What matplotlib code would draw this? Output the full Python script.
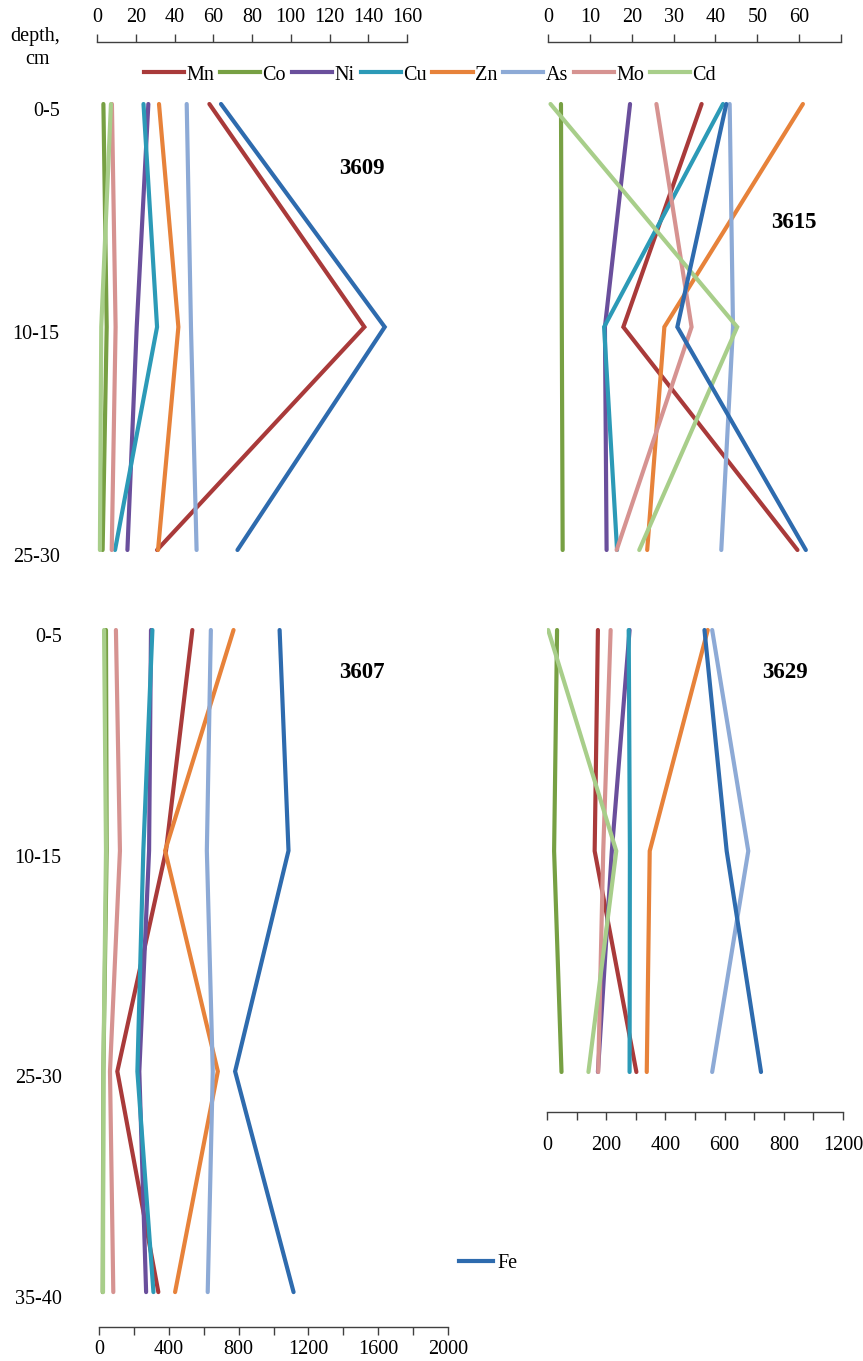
import matplotlib
matplotlib.use('Agg')
import matplotlib.pyplot as plt
from matplotlib.lines import Line2D
import matplotlib.transforms as mtransforms

plt.rcParams['font.family'] = ['Liberation Serif', 'DejaVu Serif']

# ---------------- data ----------------
elements = ['Mn', 'Co', 'Ni', 'Cu', 'Zn', 'As', 'Mo', 'Cd', 'Fe']
colors = {'Mn': '#A93A3A', 'Co': '#77A043', 'Ni': '#6A4F9C', 'Cu': '#2C9AB7',
          'Zn': '#E7823A', 'As': '#8DAAD6', 'Mo': '#D69391', 'Cd': '#A8CE8A',
          'Fe': '#2E6BAE'}

depths3 = ['0-5', '10-15', '25-30']
depths4 = ['0-5', '10-15', '25-30', '35-40']

s3609 = {
    'Mn': [58, 138, 31],
    'Co': [3.3, 5.0, 2.9],
    'Ni': [26.5, 20.5, 15.7],
    'Cu': [24, 31, 9.3],
    'Zn': [32, 42, 31.5],
    'As': [46.3, 48.5, 51.4],
    'Mo': [7.7, 9.6, 7.6],
    'Cd': [7.2, 2.2, 1.5],
    'Fe': [64, 148.5, 72.5],
}
s3615 = {
    'Mn': [36.7, 18, 59.6],
    'Co': [3.1, 3.3, 3.5],
    'Ni': [19.6, 13.6, 14.0],
    'Cu': [41.8, 13.4, 16.5],
    'Zn': [60.9, 27.8, 23.7],
    'As': [43.4, 44.2, 41.4],
    'Mo': [25.9, 34.3, 16.4],
    'Cd': [0.6, 45.2, 21.8],
    'Fe': [42.6, 30.9, 61.6],
}
s3607 = {
    'Mn': [535, 384, 105, 340],
    'Co': [40, 44, 25, 21],
    'Ni': [298, 287, 231, 270],
    'Cu': [306, 254, 220, 312],
    'Zn': [771, 379, 681, 436],
    'As': [641, 618, 652, 623],
    'Mo': [97, 120, 63, 82],
    'Cd': [29, 40, 25, 23],
    'Fe': [1035, 1086, 780, 1115],
}
s3629 = {
    'Mn': [172, 161, 302],
    'Co': [34, 24, 49],
    'Ni': [279, 219, 172],
    'Cu': [276, 280, 279],
    'Zn': [543, 347, 337],
    'As': [558, 680, 558],
    'Mo': [215, 190, 173],
    'Cd': [4, 234, 140],
    'Fe': [532, 607, 723],
}

ticks_tl = list(range(0, 161, 20))
labels_tl = [str(t) for t in ticks_tl]
ticks_tr = list(range(0, 71, 10))
labels_tr = ['0', '10', '20', '30', '40', '50', '60', '']
ticks_bl = list(range(0, 2001, 200))
labels_bl = ['0', '', '400', '', '800', '', '1200', '', '1600', '', '2000']
ticks_br = list(range(0, 1001, 100))
labels_br = ['0', '', '200', '', '400', '', '600', '', '800', '', '1200']

# ---------------- figure ----------------
W, H = 863, 1361
fig = plt.figure(figsize=(W / 100, H / 100), dpi=100)
FS = 14.5
LW = 3.0


def add_panel(x0, x1, xmax, top, bottom, row0, step):
    ax = fig.add_axes([x0 / W, 1 - bottom / H, (x1 - x0) / W, (bottom - top) / H])
    ax.set_xlim(0, xmax)
    ax.set_ylim((bottom - row0) / step, (top - row0) / step)
    ax.patch.set_alpha(0)
    return ax


def draw(ax, data, depths):
    y = list(range(len(depths)))
    for el in elements:
        ax.plot(data[el], y, color=colors[el], lw=LW, solid_capstyle='round',
                solid_joinstyle='miter')


def style(ax, where, ticks, labels, depths=None, pad_lab=6):
    for s in ['top', 'bottom', 'left', 'right']:
        ax.spines[s].set_visible(s == where)
    ax.spines[where].set_color('#404040')
    ax.spines[where].set_linewidth(1.0)
    ax.xaxis.set_ticks_position(where)
    ax.xaxis.set_label_position(where)
    ax.set_xticks(ticks)
    ax.set_xticklabels(labels)
    ax.tick_params(axis='x', direction='out', length=6, width=1.0,
                   color='#404040', labelsize=FS, pad=pad_lab)
    if depths is not None:
        ax.set_yticks(list(range(len(depths))))
        ax.set_yticklabels(depths)
        ax.tick_params(axis='y', length=0, labelsize=FS, pad=27)
        off = mtransforms.ScaledTranslation(0, -5 / 100, fig.dpi_scale_trans)
        for lab in ax.get_yticklabels():
            lab.set_transform(lab.get_transform() + off)
    else:
        ax.set_yticks([])


ax1 = add_panel(97, 407, 160, 42, 575, 104, 223)
draw(ax1, s3609, depths3)
style(ax1, 'top', ticks_tl, labels_tl, depths3, pad_lab=5)

ax2 = add_panel(548, 841, 70, 42, 575, 104, 223)
draw(ax2, s3615, depths3)
style(ax2, 'top', ticks_tr, labels_tr, None, pad_lab=5)

ax3 = add_panel(99, 448, 2000, 600, 1327, 630, 220.7)
draw(ax3, s3607, depths4)
style(ax3, 'bottom', ticks_bl, labels_bl, depths4, pad_lab=3)

ax4 = add_panel(547, 843, 1000, 600, 1112, 630, 221)
draw(ax4, s3629, depths3)
style(ax4, 'bottom', ticks_br, labels_br, None, pad_lab=11)

# panel titles
for ax, name, (px, py) in [(ax1, '3609', (362, 168)), (ax2, '3615', (794, 222)),
                           (ax3, '3607', (362, 672)), (ax4, '3629', (785, 672))]:
    fig.text(px / W, 1 - py / H, name, fontsize=16.5, fontweight='bold',
             ha='center', va='center')

fig.text(35 / W, 1 - 37 / H, 'depth,', fontsize=FS, ha='center', va='center')
fig.text(37 / W, 1 - 60 / H, 'cm', fontsize=FS, ha='center', va='center')

# legends
handles = [Line2D([0], [0], color=colors[e], lw=LW) for e in elements[:-1]]
fig.legend(handles, elements[:-1], ncol=8, loc='center',
           bbox_to_anchor=(430 / W, 1 - 75 / H), frameon=False,
           handlelength=2.0, handletextpad=0.1, columnspacing=0.3,
           fontsize=FS, borderpad=0, borderaxespad=0)
fig.legend([Line2D([0], [0], color=colors['Fe'], lw=LW)], ['Fe'], loc='center',
           bbox_to_anchor=(488 / W, 1 - 1263 / H), frameon=False,
           handlelength=1.7, handletextpad=0.2, fontsize=FS,
           borderpad=0, borderaxespad=0)

fig.savefig('out.png', dpi=100)
